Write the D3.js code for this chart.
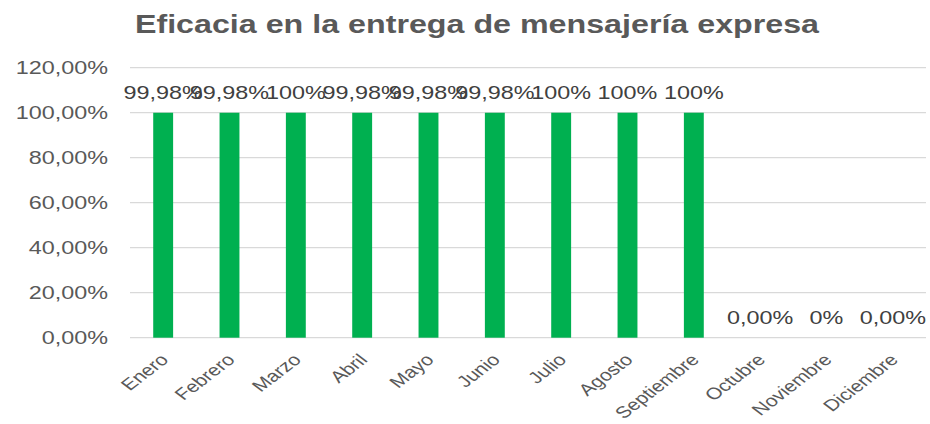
<!DOCTYPE html>
<html><head><meta charset="utf-8">
<script src="https://cdn.jsdelivr.net/npm/d3@7"></script>
<style>body{margin:0;background:#fff}svg{display:block;font-family:"Liberation Sans",Arial,sans-serif}</style>
</head><body><svg id="c" width="930" height="424"></svg>
<script>
const months = ["Enero","Febrero","Marzo","Abril","Mayo","Junio","Julio","Agosto","Septiembre","Octubre","Noviembre","Diciembre"];
const values = [99.98,99.98,100,99.98,99.98,99.98,100,100,100,0,0,0];
const valueLabels = ["99,98%","99,98%","100%","99,98%","99,98%","99,98%","100%","100%","100%","0,00%","0%","0,00%"];
const yTicks = [0,20,40,60,80,100,120];
const title = "Eficacia en la entrega de mensajería expresa";

const SX = 1.3;
const svg = d3.select("#c");
const m = {left:130, right:926, top:67.7, bottom:337.7};
const x = d3.scaleBand().domain(months).range([m.left, m.right]).paddingInner(0.7).paddingOuter(0.35);
const y = d3.scaleLinear().domain([0,120]).range([m.bottom, m.top]);

// gridlines
svg.append("g").selectAll("line").data(yTicks).join("line")
  .attr("x1", m.left).attr("x2", m.right)
  .attr("y1", d=>y(d)).attr("y2", d=>y(d))
  .attr("stroke","#d9d9d9").attr("stroke-width",1.3);

// y labels
svg.append("g").selectAll("text").data(yTicks).join("text")
  .attr("transform", d=>`translate(108,${y(d)}) scale(${SX},1)`)
  .attr("text-anchor","end").attr("dy","0.35em")
  .attr("font-size",18).attr("fill","#595959")
  .text(d=>d3.format(".2f")(d).replace(".",",")+"%");

// bars
svg.append("g").selectAll("rect").data(months).join("rect")
  .attr("x", d=>x(d)).attr("width", x.bandwidth())
  .attr("y", (d,i)=>y(values[i])).attr("height",(d,i)=>y(0)-y(values[i]))
  .attr("fill","#00b050");

// value labels
svg.append("g").selectAll("text").data(months).join("text")
  .attr("transform",(d,i)=>`translate(${x(d)+x.bandwidth()/2},${y(values[i])-14}) scale(${SX},1)`)
  .attr("text-anchor","middle").attr("font-size",18).attr("fill","#404040")
  .text((d,i)=>valueLabels[i]);

// x labels
svg.append("g").selectAll("text").data(months).join("text")
  .attr("transform", d=>`translate(${x(d)+x.bandwidth()/2-4},${y(0)+15}) scale(${SX},1) rotate(-45)`)
  .attr("text-anchor","end").attr("dy","0.7em")
  .attr("font-size",16.3).attr("fill","#595959")
  .text(d=>d);

// title
svg.append("text")
  .attr("transform",`translate(477,33) scale(1.24,1)`)
  .attr("text-anchor","middle").attr("font-size",26).attr("font-weight","bold").attr("fill","#595959")
  .text(title);
</script></body></html>
